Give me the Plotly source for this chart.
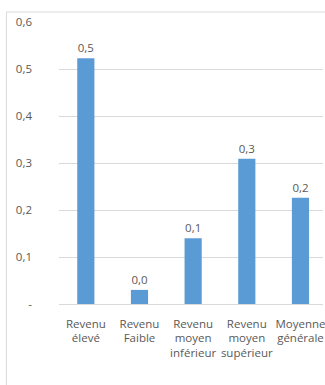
import plotly.graph_objects as go

categories = [
    "Revenu<br>élevé",
    "Revenu<br>Faible",
    "Revenu<br>moyen<br>inférieur",
    "Revenu<br>moyen<br>supérieur",
    "Moyenne<br>générale",
]
values = [0.523, 0.030, 0.140, 0.309, 0.226]

y_tickvals = [0, 0.1, 0.2, 0.3, 0.4, 0.5, 0.6]
y_ticktext = ["-", "0,1", "0,2", "0,3", "0,4", "0,5", "0,6"]

grey = "#595959"
font_family = "Open Sans, Liberation Sans, sans-serif"

fig = go.Figure(
    go.Bar(
        x=list(range(len(categories))),
        y=values,
        marker=dict(color="#5B9BD5", line=dict(width=0)),
        texttemplate="%{y:.1f}",
        textposition="outside",
        textfont=dict(color=grey, size=11.5, family=font_family),
        cliponaxis=False,
    )
)

fig.update_layout(
    width=325,
    height=385,
    margin=dict(l=59, r=0, t=22, b=81),
    paper_bgcolor="white",
    plot_bgcolor="white",
    separators=",.",
    bargap=0.68,
    showlegend=False,
    font=dict(family=font_family, size=11, color=grey),
    xaxis=dict(
        tickmode="array",
        tickvals=list(range(len(categories))),
        ticktext=categories,
        range=[-0.5, 4.42],
        showgrid=False,
        showline=False,
        zeroline=False,
        ticks="",
        tickangle=0,
        ticklabelstandoff=11,
        ticklabeloverflow="allow",
        tickfont=dict(size=11.5, color=grey, family=font_family),
    ),
    yaxis=dict(
        range=[0, 0.6],
        tickmode="array",
        tickvals=y_tickvals,
        ticktext=y_ticktext,
        showgrid=True,
        gridcolor="#d9d9d9",
        gridwidth=1,
        zeroline=True,
        zerolinecolor="#d9d9d9",
        zerolinewidth=1,
        showline=False,
        ticks="",
        ticklabelstandoff=26,
        tickfont=dict(size=11.5, color=grey, family=font_family),
    ),
    shapes=[
        dict(
            type="rect",
            xref="paper",
            yref="paper",
            x0=(6 - 59) / 266,
            x1=1.2,
            y0=-0.5,
            y1=1 + 10 / 282,
            line=dict(color="#d9d9d9", width=1),
            fillcolor="rgba(0,0,0,0)",
            layer="below",
        )
    ],
)

fig.write_html("out.html")
